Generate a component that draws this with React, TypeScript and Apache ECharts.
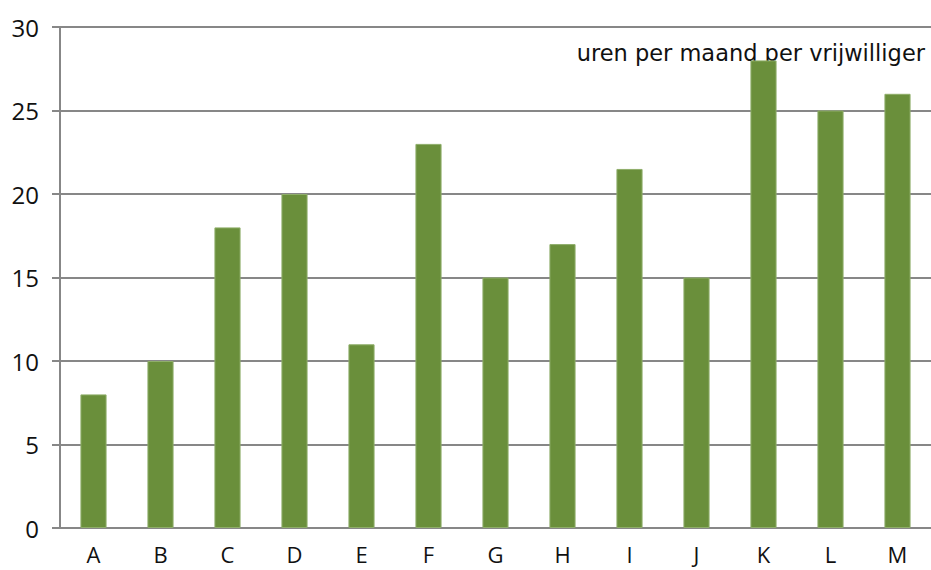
import React, { useEffect, useRef } from "react";
import * as echarts from "echarts";

const categories = ["A", "B", "C", "D", "E", "F", "G", "H", "I", "J", "K", "L", "M"];
const values = [8, 10, 18, 20, 11, 23, 15, 17, 21.5, 15, 28, 25, 26];
const annotation = "uren per maand per vrijwilliger";

const FONT = "Open Sans, Lato, sans-serif";

export default function App() {
  const ref = useRef<HTMLDivElement>(null);
  useEffect(() => {
    document.body.style.margin = "0";
    const chart = echarts.init(ref.current!, null, { renderer: "svg" });
    chart.setOption({
      animation: false,
      backgroundColor: "#ffffff",
      grid: { left: 60, right: 0, top: 27, bottom: 42 },
      xAxis: {
        type: "category",
        data: categories,
        axisLine: { lineStyle: { color: "#878787", width: 2 } },
        axisTick: { show: false },
        axisLabel: { color: "#111", fontSize: 22, lineHeight: 22, fontFamily: FONT, margin: 15 },
      },
      yAxis: {
        type: "value",
        min: 0,
        max: 30,
        interval: 5,
        axisLine: { show: true, lineStyle: { color: "#878787", width: 2 } },
        axisTick: { show: true, length: 8, lineStyle: { color: "#878787", width: 2 } },
        splitLine: { lineStyle: { color: "#878787", width: 2 } },
        axisLabel: { color: "#111", fontSize: 24, fontFamily: FONT, margin: 21 },
      },
      series: [
        {
          type: "bar",
          data: values,
          barWidth: "39%",
          itemStyle: { color: "#6a8f3b", borderColor: "#8fae6a", borderWidth: 1 },
        },
      ],
      graphic: [
        {
          type: "text",
          right: 6,
          top: 41,
          style: { text: annotation, fontSize: 22.5, fontFamily: "DejaVu Sans, sans-serif", fill: "#111" },
        },
      ],
    });
    return () => chart.dispose();
  }, []);
  return <div ref={ref} style={{ width: 931, height: 570 }} />;
}
